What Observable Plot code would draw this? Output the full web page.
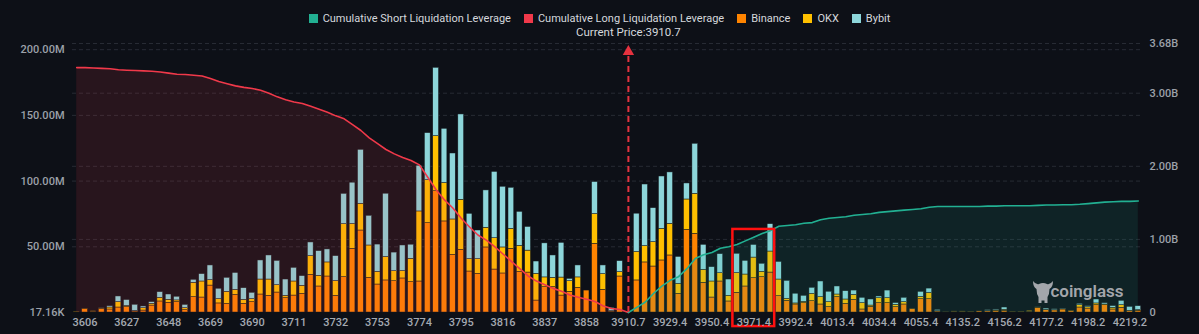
<!DOCTYPE html>
<html><head><meta charset="utf-8">
<script src="https://cdn.jsdelivr.net/npm/d3@7"></script>
<script src="https://cdn.jsdelivr.net/npm/@observablehq/plot@0.6"></script>
<style>
html,body{margin:0;padding:0;background:#0d1017;}
body{width:1199px;height:334px;overflow:hidden;font-family:Roboto,"Noto Sans",sans-serif;position:relative;}
#legend{height:16px;padding-top:10px;display:flex;justify-content:center;align-items:center;gap:13px;font-size:11px;color:#d5d8dd;}
.item{display:flex;align-items:center;gap:5px;white-space:nowrap;}
.sw{width:9px;height:9px;display:inline-block;}
#logo{position:absolute;left:1032px;top:279px;}
</style></head><body>
<div id="legend"></div>
<div id="chart"></div>
<svg id="logo" width="22" height="26" viewBox="0 0 22 26"><path d="M1 2 Q4 6 7 5 Q11 3 15 5 Q18 6 21 2 Q21 8 17.5 10 Q17.5 15 15.5 18 L15.5 24 L12.5 24 L12.5 21.5 L9.5 21.5 L9.5 24 L6.5 24 L6.5 18 Q4.5 15 4.5 10 Q1 8 1 2Z" fill="#a3a6ab"/></svg>
<script>
// x-axis tick labels (every fifth price level, starting at the second one)
const tickLabels = ["3606","3627","3648","3669","3690","3711","3732","3753","3774","3795","3816","3837","3858","3910.7","3929.4","3950.4","3971.4","3992.4","4013.4","4034.4","4055.4","4135.2","4156.2","4177.2","4198.2","4219.2"];

// Liquidation volume per price level, millions USD
const binance = [0.4,2.5,0.5,2.5,2.3,3.8,4.1,0.8,1.5,5.3,
 8.4,7.4,7.9,1.8,11.7,11.4,20.5,6.9,6.6,13.4,
 6.6,7.9,13.7,12.7,15.2,10.9,12.9,14.2,28.7,19.8,
 27.4,12.7,26.9,48.5,62.4,26.4,21.3,24.4,23.8,25.9,
 23.1,23.6,68.0,92.3,69.3,43.9,47.7,31.2,29.4,49.5,
 32.7,29.7,48.5,30.9,30.4,9.1,19.3,19.3,12.9,15.7,
 18.8,16.7,52.3,17.3,0.5,27.4,0,24.4,38.1,35.0,
 39.6,43.4,14.2,62.9,59.9,22.6,11.4,23.6,8.4,15.0,
 19.8,26.1,26.9,30.4,12.4,8.9,6.1,7.1,8.6,6.1,
 4.1,11.7,6.6,9.6,2.3,4.3,7.1,7.1,4.1,6.1,
 2.6,10.1,10.1,0.8,0.2,0.5,0.5,0.3,0.9,0.9,
 1.2,1.3,0.3,0.3,0.6,3.6,1.8,1.6,2.3,1.0,
 3.8,3.0,5.6,5.6,2.3,3.6,1.3,1.3];
const okx = [0.3,0.3,0.5,0.5,1.5,4.1,0.8,0.3,1.8,1.3,
 2.8,2.3,1.3,1.5,10.9,12.2,4.1,3.3,9.1,3.8,
 3.0,2.3,11.4,12.4,5.6,1.8,10.7,6.1,14.2,8.1,
 10.7,11.2,40.3,18.8,20.3,24.6,9.6,17.8,7.6,5.6,
 17.8,53.3,32.7,41.9,29.2,26.9,38.1,9.4,11.2,15.0,
 23.8,19.8,15.2,19.8,16.7,20.3,7.4,7.1,13.7,8.1,
 7.9,0,22.6,11.9,0.5,3.3,0,21.6,12.4,18.5,
 24.1,24.1,7.6,23.1,30.4,9.9,12.2,6.3,4.3,15.0,
 9.1,15.7,4.1,16.0,12.7,1.5,0.8,1.0,5.6,5.6,
 3.8,2.0,3.3,3.8,4.8,1.0,3.8,3.8,1.8,1.8,
 0.2,1.8,4.8,0.2,0.1,0.3,0.3,0.2,0.4,0.3,
 0.4,0.8,0.2,0.2,0.7,0.3,0.2,0.2,0.2,0.3,
 1.8,1.0,1.3,0.5,1.3,2.0,0.0,0.5];
const bybit = [0,0,0,0.2,1.0,4.3,4.6,4.8,1.3,1.3,
 4.3,4.0,2.8,2.5,2.3,5.6,11.2,7.9,10.7,12.9,
 8.9,4.8,14.5,18.3,18.5,12.4,10.4,7.4,10.4,18.8,
 9.9,19.0,23.1,31.5,41.1,22.6,20.8,48.2,14.2,19.5,
 10.7,34.8,35.8,52.0,41.3,50.2,64.9,34.5,21.8,28.4,
 50.5,46.2,31.2,25.9,18.0,9.4,25.9,17.0,26.4,1.8,
 9.1,0,24.4,6.6,2.5,8.4,0,29.2,46.9,25.9,
 39.8,39.1,20.5,12.2,38.1,19.0,10.9,14.5,12.4,14.7,
 10.4,9.6,6.1,20.8,13.4,13.7,7.4,4.6,4.6,11.9,
 7.9,6.1,6.3,3.3,4.1,4.6,1.3,5.8,1.3,3.3,
 0,3.8,3.3,1.0,0,0,0,0,0,0.6,
 0.7,1.7,0,0,0,0.4,1.0,0.7,0.3,0,
 1.0,0.8,3.0,1.0,1.3,3.3,3.0,3.0];

// Cumulative leverage, billions USD
const longCum = [3.35,3.35,3.345,3.34,3.335,3.32,3.315,3.31,3.305,3.30,
 3.29,3.275,3.26,3.255,3.245,3.235,3.20,3.16,3.13,3.10,
 3.08,3.065,3.04,3.00,2.95,2.91,2.88,2.86,2.82,2.78,
 2.74,2.69,2.65,2.57,2.49,2.39,2.31,2.23,2.17,2.12,
 2.08,2.02,1.85,1.68,1.54,1.43,1.29,1.17,1.06,0.99,
 0.90,0.80,0.70,0.60,0.50,0.43,0.38,0.33,0.29,0.24,
 0.21,0.18,0.15,0.09,0.055,0.04,0];
const shortCum = [0,0.07,0.14,0.26,0.36,0.44,0.49,0.60,0.74,0.79,
 0.82,0.88,0.90,0.93,0.98,1.03,1.08,1.12,1.18,1.19,
 1.20,1.22,1.23,1.27,1.29,1.30,1.31,1.33,1.34,1.35,
 1.37,1.38,1.39,1.40,1.41,1.42,1.44,1.45,1.45,1.45,
 1.45,1.45,1.45,1.455,1.455,1.46,1.46,1.46,1.46,1.465,
 1.47,1.47,1.475,1.475,1.48,1.49,1.50,1.51,1.515,1.52,
 1.52,1.525];

const currentIndex = 66;
const currentPrice = "3910.7";
const leftTicks = [0, 50, 100, 150, 200];          // millions
const rightTicks = [0, 1, 2, 3, 3.68];             // billions
const leftMax = 204.7;                              // millions
const rightMax = 3.68;                              // billions
const highlight = [{from: 79, to: 83, low: -10.7, high: 63.2}]; // millions

const exchanges = ["Binance", "OKX", "Bybit"];
const exchangeColors = ["#ff8400", "#ffc000", "#8dd6da"];
const shortColor = "#22b092", longColor = "#f0394a";

// legend
const legendItems = [["Cumulative Short Liquidation Leverage", shortColor], ["Cumulative Long Liquidation Leverage", longColor], ...exchanges.map((e, i) => [e, exchangeColors[i]])];
document.getElementById("legend").innerHTML = legendItems.map(([t, c]) => `<span class="item"><span class="sw" style="background:${c}"></span>${t}</span>`).join("");

const k = leftMax / (rightMax * 1000); // billions -> millions of left scale
const idx = binance.map((_, i) => i);
const bars = [];
idx.forEach(i => {
  bars.push({i, ex: "Binance", v: binance[i]});
  bars.push({i, ex: "OKX", v: okx[i]});
  bars.push({i, ex: "Bybit", v: bybit[i]});
});
const longRows = longCum.map((v, j) => ({i: j, v: v * 1000 * k}));
const shortRows = shortCum.map((v, j) => ({i: currentIndex + j, v: v * 1000 * k}));

const grid = {stroke: "#272b34", strokeOpacity: 1, strokeDasharray: "4 3"};
const chart = Plot.plot({
  width: 1199, height: 308,
  marginTop: 17, marginBottom: 22, marginLeft: 72, marginRight: 57,
  style: {background: "transparent", color: "#9ca1a9", fontFamily: "Roboto, sans-serif", fontSize: "11px", overflow: "visible"},
  x: {type: "band", domain: idx, padding: 0, axis: null},
  y: {domain: [0, leftMax], axis: null},
  color: {domain: exchanges, range: exchangeColors},
  marks: [
    Plot.gridY(leftTicks.slice(1), grid),
    Plot.gridY(rightTicks.slice(1).map(v => v * 1000 * k), grid),
    Plot.barY(bars, {x: "i", y: "v", fill: "ex", order: exchanges, insetLeft: 1.3, insetRight: 1.3, stroke: "#15181d", strokeWidth: 0.5}),
    Plot.areaY(longRows, {x: "i", y: "v", fill: longColor, fillOpacity: 0.12}),
    Plot.areaY(shortRows, {x: "i", y: "v", fill: shortColor, fillOpacity: 0.12}),
    Plot.lineY(longRows, {x: "i", y: "v", stroke: longColor, strokeWidth: 1.6}),
    Plot.lineY(shortRows, {x: "i", y: "v", stroke: shortColor, strokeWidth: 1.6}),
    Plot.ruleX([currentIndex], {y1: 0, y2: 195, stroke: "#e5323f", strokeWidth: 2, strokeDasharray: "6 4"}),
    Plot.dot([currentIndex], {x: d => d, y: 198.5, symbol: "triangle", r: 4.2, fill: "#e5323f", stroke: null}),
    Plot.text([currentIndex], {x: d => d, frameAnchor: "top", dy: -11, lineAnchor: "middle", text: () => "Current Price:" + currentPrice, fill: "#d5d8dd", fontSize: 11.5}),
    Plot.rect(highlight, {x1: "from", x2: "to", y1: "low", y2: "high", fill: "none", stroke: "#ff1010", strokeWidth: 2.5}),
    Plot.axisX(tickLabels.map((_, j) => 1 + 5 * j), {tickSize: 0, tickPadding: 6, tickFormat: d => tickLabels[(d - 1) / 5], color: "#a4a9b1", fontSize: 11, fontWeight: 500, label: null}),
    Plot.axisY(leftTicks, {anchor: "left", tickSize: 0, tickPadding: 8, tickFormat: d => d === 0 ? "17.16K" : d.toFixed(2) + "M", color: "#9ca1a9", fontSize: 11, fontWeight: 500, label: null}),
    Plot.axisY(rightTicks.map(v => v * 1000 * k), {anchor: "right", tickSize: 0, tickPadding: 7, tickFormat: d => { const b = d / (1000 * k); return b < 1e-9 ? "0" : b.toFixed(2) + "B"; }, color: "#9ca1a9", fontSize: 11, fontWeight: 500, label: null}),
    Plot.text(["coinglass"], {frameAnchor: "bottom-right", dx: -19, dy: -21, text: d => d, fill: "#a3a6ab", fontSize: 17, fontWeight: 600, textAnchor: "end", lineAnchor: "middle"})
  ]
});
document.getElementById("chart").appendChild(chart);
</script>
</body></html>
